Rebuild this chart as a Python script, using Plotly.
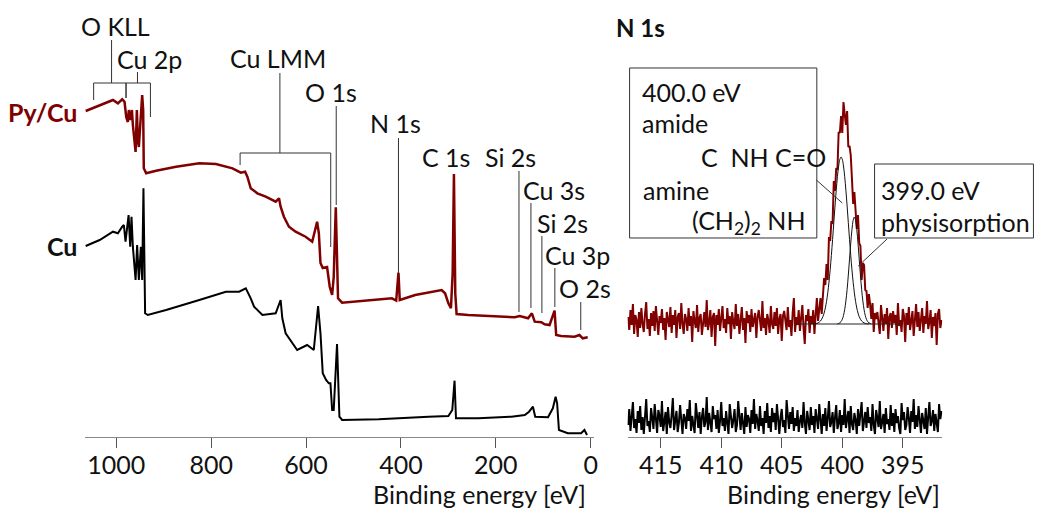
import numpy as np
import plotly.graph_objects as go

FONT = "Lato"
RED = "#800000"

# ---------------- Survey spectra (binding energy [eV], intensity [a.u.]) ----------------
survey_pycu_be = [1064.5, 1040, 1020, 1007, 996.6, 987.5, 982.6, 979, 975.6, 973.5, 970.6, 967, 965,
                  961.4, 959.3, 956.6, 954.5, 952.4, 950, 947.6, 945.4, 943.3, 942, 937, 916, 874, 825,
                  790, 755, 737.5, 728.5, 723.7, 716.6, 702.7, 685, 664, 657, 653.6, 646.7, 636, 622,
                  601, 587, 576.7, 573, 569.6, 564.8, 555.7, 550, 545, 541.7, 537.3, 534, 532.6, 524,
                  482, 419, 410, 405.2, 402.5, 370, 314.3, 307, 300, 294.6, 291, 288.3, 285.5, 282.7,
                  258, 202, 160, 149.7, 132, 124, 118, 104, 97.2, 86.7, 79.8, 76.2, 72.8, 62.4, 34.2,
                  23.7, 16.8, 6.3]
survey_pycu_int = [326, 331, 335, 337, 333.7, 337.7, 335.3, 320, 315, 327, 317, 327, 312,
                   290, 285, 327, 297, 290, 307, 327, 342, 327, 268.7, 263.7, 266.3, 270.3, 273.7,
                   273, 268.7, 264.3, 265.3, 260.3, 248.7, 243.7, 240.3, 235.3, 238.7, 230.3, 220.3, 210.3, 205.3,
                   200.3, 195.3, 215.3, 203.7, 174, 169, 170, 150, 142, 160, 229.7, 145, 138.7, 134.3,
                   136.3, 138.7, 136.5, 164.3, 137, 142, 147, 143.7, 133.7, 128.7, 163.7, 263, 143.7, 123,
                   122, 121, 119.7, 121, 118.7, 123.7, 115.3, 114.7, 112.7, 112, 120.3, 126.3, 102, 101, 100.3,
                   102, 98.7, 99.7]

survey_cu_be = [1064.5, 1035, 1007, 996.6, 987.5, 984, 980.5, 974, 970.6, 967.9, 965, 961.4, 959.3,
                956, 952.4, 948.2, 945.4, 942.7, 940.6, 939.2, 933.6, 895, 825, 769, 741, 727, 716.6,
                709.6, 692, 664, 653.6, 650, 643, 632.6, 618.7, 597.7, 583.7, 574.6, 569.6, 564.8,
                557.8, 552, 548.6, 545, 541.7, 534.7, 529.7, 524, 447, 342, 300, 291.8, 287, 284,
                237, 167, 139, 130, 121.8, 117, 90, 79.8, 74, 70.8, 67, 48.3, 20.4, 13.2, 7.8]
survey_cu_int = [191, 197, 205.3, 203.7, 210.3, 212, 195.3, 222, 190.3, 220.3, 190.3, 163.7, 157,
                 192, 157, 190.3, 157, 248.7, 137, 123.7, 122, 127, 137, 145.3, 145.3, 148.7, 138.7,
                 130.3, 122, 123.7, 137, 118.7, 103.7, 97, 87, 92, 87, 131, 103.7, 63.7,
                 57, 53.7, 53.7, 27, 27, 93, 20.3, 17, 17.7, 20.3, 21, 27, 56.3, 18.7,
                 18.7, 20.3, 22, 25.3, 30.3, 20.3, 19.7, 28.7, 40.3, 33.7, 7, 3.7, 3.7, 7, 2]

# Peak assignment labels (survey)
peak_labels = ["O KLL", "Cu 2p", "Cu LMM", "O 1s", "N 1s", "C 1s", "Si 2s", "Cu 3s", "Si 2s", "Cu 3p", "O 2s"]
label_be = [1002.5, 929, 659, 548, 411.5, 304.4, 169, 76.6, 59.8, 27.3, 12.6]
label_int = [411, 378, 379, 345, 314, 280, 280, 247, 214, 182, 149]

marker_be = [536.4, 405.2, 151.2, 126.0, 102.9, 75.6, 21.0]
marker_top = [331, 299, 266, 234, 201, 169, 135]
marker_bottom = [232, 164, 125, 129, 124, 130, 107]

# brackets: (from, to, bar level, stem position, stem top, left leg bottom, right leg bottom)
bracket_from = [1047.7, 979.4, 739.0]
bracket_to = [979.4, 928.0, 548.0]
bracket_level = [354, 354, 284]
bracket_stem = [1009.9, 955.3, 655.1]
bracket_stem_top = [397, 365, 364]
bracket_leg_left = [337, 339, 272]
bracket_leg_right = [339, 320, 190]

# ---------------- N 1s high-resolution ----------------
n1s_be_start = 417.7
n1s_pycu_int = [
    120, 107, 127, 112, 133, 103, 122, 117, 100, 125, 109, 129, 113, 105, 123, 135, 108, 118, 101, 124,
    111, 126, 106, 131, 116, 102, 121, 114, 128, 107, 119, 97, 125, 117, 110, 130, 104, 122, 112, 127,
    99, 120, 124, 108, 134, 113, 103, 123, 118, 106, 129, 111, 121, 95, 126, 116, 109, 132, 105, 119,
    123, 102, 117, 125, 110, 137, 107, 114, 127, 100, 120, 124, 91, 122, 112, 128, 106, 116, 131, 109,
    118, 104, 129, 113, 121, 98, 125, 115, 108, 133, 111, 123, 103, 117, 130, 107, 119, 94, 126, 114,
    122, 105, 128, 110, 117, 124, 99, 120, 127, 112, 106, 136, 109, 119, 102, 123, 116, 104, 131, 113,
    108, 125, 111, 129, 103, 118, 123, 96, 121, 126, 114, 107, 130, 110, 117, 101, 124, 139, 105, 120,
    112, 127, 106, 119, 132, 109, 93, 122, 116, 128, 104, 121, 113, 127, 103, 122, 139, 116, 126, 139,
    123, 146, 159, 152, 173, 157, 200, 196, 216, 213, 256, 246, 269, 267, 305, 304, 321, 304, 335, 323,
    312, 326, 290, 291, 282, 258, 233, 245, 228, 208, 222, 194, 191, 157, 174, 172, 147, 146, 129, 143,
    133, 118, 134, 105, 124, 118, 125, 111, 103, 132, 118, 106, 123, 113, 129, 98, 120, 124, 109, 126,
    114, 122, 102, 134, 111, 117, 105, 128, 121, 95, 124, 112, 130, 107, 116, 126, 101, 119, 133, 110,
    125, 106, 118, 129, 104, 121, 113, 136, 108, 115, 127, 99, 120, 111, 124, 92, 123, 128, 109, 117]
n1s_cu_int = [
    12, 28, 6, 22, 35, 9, 18, 4, 26, 14, 31, 7, 20, 3, 24, 38, 11, 16, 5, 29,
    19, 8, 33, 13, 4, 27, 21, 10, 36, 6, 17, 25, 3, 30, 15, 9, 22, 39, 7, 18,
    26, 5, 14, 32, 11, 3, 23, 19, 8, 28, 16, 37, 6, 21, 12, 4, 34, 17, 9, 25,
    3, 20, 29, 10, 15, 40, 7, 24, 13, 5, 31, 18, 22, 8, 27, 4, 16, 35, 11, 19,
    6, 26, 14, 3, 33, 21, 9, 17, 28, 5, 12, 36, 20, 7, 24, 15, 3, 30, 10, 22,
    18, 4, 27, 13, 38, 8, 23, 16, 6, 31, 11, 19, 3, 26, 14, 34, 9, 21, 5, 29,
    15, 24, 7, 33, 12, 3, 20, 28, 10, 17, 4, 37, 22, 8, 25, 13, 30, 6, 19, 11,
    27, 5, 16, 22, 9, 35, 14, 3, 26, 18, 7, 30, 12, 21, 4, 28, 17, 8, 33, 13,
    3, 23, 11, 29, 6, 19, 36, 10, 15, 25, 4, 20, 32, 8, 14, 27, 5, 22, 12, 38,
    9, 18, 26, 4, 31, 13, 7, 24, 17, 3, 28, 11, 21, 35, 6, 16, 25, 9, 30, 14,
    20, 6, 33, 12, 3, 27, 19, 10, 36, 8, 15, 23, 4, 29, 13, 18, 7, 32, 11, 24,
    5, 28, 14, 21, 9, 3, 34, 17, 25, 7, 12, 30, 19, 4, 26, 15, 38, 8, 22, 10,
    31, 13, 4, 24, 17, 8, 29, 3, 20, 35, 11, 16, 27, 6, 23, 14, 5, 33, 18, 26]

# fitted components (400.0 eV and 399.0 eV) and linear background
fit1_be_start = 402.4
fit1_int = [113.1, 113.2, 113.3, 113.6, 114.1, 114.9, 116.0, 117.8, 120.3, 124.0, 129.0, 135.6, 144.1,
            154.7, 167.2, 181.6, 197.5, 214.3, 231.0, 246.7, 260.4, 271.0, 277.7, 280.0, 277.7, 271.0,
            260.4, 246.7, 231.0, 214.3, 197.5, 181.6, 167.2, 154.7, 144.1, 135.6, 129.0, 124.0, 120.3,
            117.8, 116.0, 114.9, 114.1, 113.6, 113.3, 113.2, 113.1]
fit2_be_start = 400.4
fit2_int = [113.2, 113.5, 114.2, 115.4, 117.7, 121.5, 127.5, 136.1, 147.7, 162.0, 177.9, 193.8, 207.4,
            216.7, 220.0, 216.7, 207.4, 193.8, 177.9, 162.0, 147.7, 136.1, 127.5, 121.5, 117.7, 115.4,
            114.2, 113.5, 113.2]
bg_be = [404.0, 395.0]
bg_int = [113, 113]

n1s_ticks = [415, 410, 405, 400, 395]
survey_ticks = [1000, 800, 600, 400, 200, 0]


def grid(start, n, step=0.1):
    return np.round(start - step * np.arange(n), 3)


fig = go.Figure()

# survey
fig.add_trace(go.Scatter(x=survey_pycu_be, y=survey_pycu_int, mode="lines",
                         line=dict(color=RED, width=2.5), xaxis="x", yaxis="y", hoverinfo="skip"))
fig.add_trace(go.Scatter(x=survey_cu_be, y=survey_cu_int, mode="lines",
                         line=dict(color="black", width=2), xaxis="x", yaxis="y", hoverinfo="skip"))

# N 1s
fig.add_trace(go.Scatter(x=grid(n1s_be_start, len(n1s_pycu_int)), y=n1s_pycu_int, mode="lines",
                         line=dict(color=RED, width=2), xaxis="x2", yaxis="y2", hoverinfo="skip"))
fig.add_trace(go.Scatter(x=grid(n1s_be_start, len(n1s_cu_int)), y=n1s_cu_int, mode="lines",
                         line=dict(color="black", width=2), xaxis="x2", yaxis="y2", hoverinfo="skip"))
fig.add_trace(go.Scatter(x=bg_be, y=bg_int, mode="lines", line=dict(color="#222", width=1),
                         xaxis="x2", yaxis="y2", hoverinfo="skip"))
fig.add_trace(go.Scatter(x=grid(fit1_be_start, len(fit1_int)), y=fit1_int, mode="lines",
                         line=dict(color="#111", width=1, shape="spline"), xaxis="x2", yaxis="y2",
                         hoverinfo="skip"))
fig.add_trace(go.Scatter(x=grid(fit2_be_start, len(fit2_int)), y=fit2_int, mode="lines",
                         line=dict(color="#111", width=1, shape="spline"), xaxis="x2", yaxis="y2",
                         hoverinfo="skip"))

shapes = []
LC = dict(color="#333", width=1)
for be, top, bot in zip(marker_be, marker_top, marker_bottom):
    shapes.append(dict(type="line", xref="x", yref="y", x0=be, x1=be, y0=top, y1=bot, line=LC))
for f, t, lev, st, stt, ll, lr in zip(bracket_from, bracket_to, bracket_level, bracket_stem,
                                      bracket_stem_top, bracket_leg_left, bracket_leg_right):
    shapes.append(dict(type="line", xref="x", yref="y", x0=f, x1=t, y0=lev, y1=lev, line=LC))
    shapes.append(dict(type="line", xref="x", yref="y", x0=f, x1=f, y0=lev, y1=ll, line=LC))
    shapes.append(dict(type="line", xref="x", yref="y", x0=t, x1=t, y0=lev, y1=lr, line=LC))
    shapes.append(dict(type="line", xref="x", yref="y", x0=st, x1=st, y0=stt, y1=lev, line=LC))

# annotation boxes (N 1s panel)
shapes.append(dict(type="rect", xref="paper", yref="paper", x0=0.6083, x1=0.7892, y0=0.4554, y1=0.8444,
                   line=dict(color="#333", width=1), fillcolor="rgba(0,0,0,0)"))
shapes.append(dict(type="rect", xref="paper", yref="paper", x0=0.8450, x1=0.9985, y0=0.4554, y1=0.6247,
                   line=dict(color="#333", width=1), fillcolor="rgba(0,0,0,0)"))
# leader lines
shapes.append(dict(type="line", xref="x2", yref="y2", x0=402.14, x1=400.0, y0=257, y1=234, line=LC))
shapes.append(dict(type="line", xref="x2", yref="y2", x0=396.3, x1=398.68, y0=198, y1=171, line=LC))

ann = []
TF = dict(family=FONT, size=25, color="#111")
for txt, be, h in zip(peak_labels, label_be, label_int):
    ann.append(dict(text=txt, x=be, y=h, xref="x", yref="y", showarrow=False, font=TF,
                    xanchor="center", yanchor="middle"))

ann.append(dict(text="<b>Py/Cu</b>", x=79 / 1039, y=325, xref="paper", yref="y", showarrow=False,
                font=dict(family=FONT, size=25, color=RED), xanchor="right", yanchor="middle"))
ann.append(dict(text="<b>Cu</b>", x=79 / 1039, y=191, xref="paper", yref="y", showarrow=False,
                font=dict(family=FONT, size=25, color="#111"), xanchor="right", yanchor="middle"))

ann.append(dict(text="<b>N 1s</b>", x=416.71, y=410, xref="x2", yref="y2", showarrow=False,
                font=dict(family=FONT, size=24, color="#111"), xanchor="center", yanchor="middle"))
box_texts = ["400.0 eV", "amide", "C  NH C=O", "amine", "(CH<sub>2</sub>)<sub>2</sub> NH", "399.0 eV",
             "physisorption"]
box_be = [416.75, 416.75, 411.81, 416.67, 412.56, 396.95, 396.95]
box_h = [345, 314, 280, 247, 215, 247, 215]
for txt, be, h in zip(box_texts, box_be, box_h):
    ann.append(dict(text=txt, x=be, y=h, xref="x2", yref="y2", showarrow=False, font=TF,
                    xanchor="left", yanchor="middle"))

ann.append(dict(text="Binding energy [eV]", x=6.3, y=-0.13, xref="x", yref="paper", showarrow=False,
                font=TF, xanchor="right", yanchor="middle"))
ann.append(dict(text="Binding energy [eV]", x=391.73, y=-0.13, xref="x2", yref="paper", showarrow=False,
                font=TF, xanchor="right", yanchor="middle"))

axis_common = dict(showgrid=False, zeroline=False, showline=True, linecolor="#888", linewidth=1,
                   ticks="outside", ticklen=10, tickwidth=1, tickcolor="#555",
                   ticklabelstandoff=-4,
                   tickfont=dict(family=FONT, size=25, color="#111"))

fig.update_layout(
    width=1039, height=509,
    margin=dict(l=0, r=0, t=0, b=72),
    paper_bgcolor="white", plot_bgcolor="white",
    showlegend=False,
    xaxis=dict(domain=[85 / 1039, 596 / 1039], range=[1066.6, -6.3], tickvals=survey_ticks,
               anchor="y", **axis_common),
    yaxis=dict(domain=[0, 1], range=[0, 437], visible=False, anchor="x"),
    xaxis2=dict(domain=[630 / 1039, 946 / 1039], range=[417.74, 391.73], tickvals=n1s_ticks,
                anchor="y2", **axis_common),
    yaxis2=dict(domain=[0, 1], range=[0, 437], visible=False, anchor="x2"),
    shapes=shapes,
    annotations=ann,
)

fig.write_html("out.html")
